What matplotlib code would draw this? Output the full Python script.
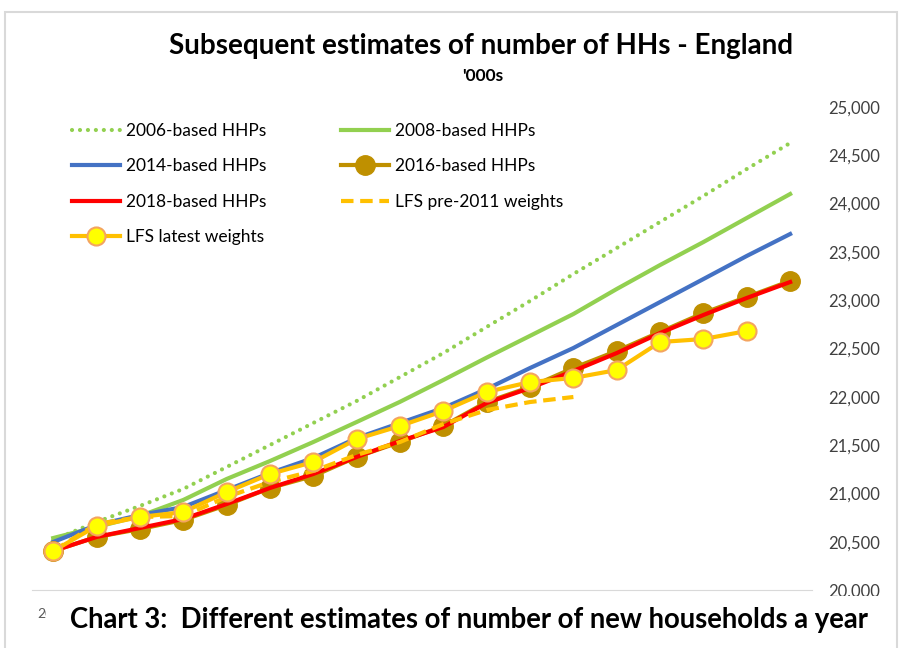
import matplotlib
matplotlib.use("Agg")
import matplotlib.pyplot as plt
from matplotlib.patches import Rectangle
from matplotlib.ticker import FuncFormatter

plt.rcParams["font.family"] = ["Lato", "DejaVu Sans"]

years = [str(y) for y in range(2001, 2019)]

# household estimates, '000s
hhp_2006 = [20518, 20704, 20870, 21046, 21273, 21501, 21729, 21957, 22205, 22453,
            22723, 22992, 23271, 23540, 23810, 24079, 24358, 24627]
hhp_2008 = [20538, 20652, 20766, 20932, 21149, 21335, 21532, 21739, 21948, 22174,
            22406, 22631, 22857, 23116, 23364, 23602, 23851, 24099]
hhp_2014 = [20497, 20673, 20776, 20859, 21035, 21211, 21366, 21573, 21729, 21884,
            22081, 22298, 22505, 22743, 22981, 23219, 23458, 23685]
hhp_2016 = [20404, 20549, 20631, 20725, 20880, 21056, 21180, 21377, 21532, 21698,
            21946, 22101, 22298, 22474, 22671, 22867, 23033, 23199]
hhp_2018 = [20404, 20549, 20642, 20735, 20890, 21056, 21201, 21377, 21542, 21687,
            21936, 22091, 22267, 22453, 22660, 22847, 23023, 23188]
lfs_pre2011 = [20404, 20684, 20756, 20766, 20963, 21118, 21232, 21398, 21532, 21718,
               21863, 21946, 21998]
lfs_latest = [20404, 20663, 20756, 20807, 21014, 21201, 21325, 21563, 21698, 21853,
              22050, 22153, 22195, 22277, 22567, 22598, 22681]

GREEN = "#92D050"
BLUE = "#4472C4"
GOLD = "#BF9000"
RED = "#FF0000"
AMBER = "#FFC000"

fig = plt.figure(figsize=(9.02, 6.48), dpi=100)
ax = fig.add_axes([0.035, 0.0895, 0.865, 0.7454])

x = range(len(years))
lw = 3.0
h06, = ax.plot(x, hhp_2006, color=GREEN, lw=lw, ls=(0, (0.01, 1.9)),
               dash_capstyle="round", label="2006-based HHPs")
h08, = ax.plot(x, hhp_2008, color=GREEN, lw=lw, label="2008-based HHPs")
h14, = ax.plot(x, hhp_2014, color=BLUE, lw=lw, label="2014-based HHPs")
h16, = ax.plot(x, hhp_2016, color=GOLD, lw=lw, marker="o", ms=14,
               mec=GOLD, label="2016-based HHPs")
h18, = ax.plot(x, hhp_2018, color=RED, lw=lw, label="2018-based HHPs")
hpre, = ax.plot(range(len(lfs_pre2011)), lfs_pre2011, color=AMBER, lw=lw,
                ls=(0, (3, 1.6)), label="LFS pre-2011 weights")
hlat, = ax.plot(range(len(lfs_latest)), lfs_latest, color=AMBER, lw=lw, marker="o",
                ms=13, mfc="#FFFF00", mec="#F4A460", mew=1.5,
                label="LFS latest weights")

ax.set_xlim(-0.5, len(years) - 0.5)
ax.set_ylim(20000, 25000)
ax.set_yticks(range(20000, 25001, 500))
ax.yaxis.tick_right()
ax.yaxis.set_major_formatter(FuncFormatter(lambda v, p: f"{int(v):,}"))
ax.tick_params(axis="y", length=0, pad=12, labelsize=12, labelcolor="#404040")
ax.set_xticks(list(x))
ax.set_xticklabels(years)
ax.tick_params(axis="x", length=0, labelsize=10, labelcolor="#595959", pad=13)
for s in ("top", "left", "right"):
    ax.spines[s].set_visible(False)
ax.spines["bottom"].set_color("#D9D9D9")

handles = [h06, h14, h18, hlat, h08, h16, hpre]
ax.legend(handles=handles, labels=[h.get_label() for h in handles], ncol=2,
          frameon=False, loc="upper left", bbox_to_anchor=(0.043, 0.982),
          fontsize=12.5, handlelength=2.75, handletextpad=0.35, columnspacing=4.3,
          labelspacing=1.13, borderaxespad=0.0)

fig.text(481 / 902, 1 - 46 / 648, "Subsequent estimates of number of HHs - England",
         ha="center", va="center", fontsize=20, fontweight="bold")
fig.text(483 / 902, 1 - 76 / 648, "'000s", ha="center", va="center", fontsize=12.5,
         fontweight="bold")

# caption panel sits over the bottom of the chart
fig.add_artist(Rectangle((46 / 902, 0.01), 839 / 902, (648 - 596) / 648 - 0.01,
                         transform=fig.transFigure, facecolor="white",
                         edgecolor="none", zorder=5))
fig.text(70 / 902, 1 - 620 / 648,
         "Chart 3:  Different estimates of number of new households a year",
         ha="left", va="center", fontsize=19.8, fontweight="bold", zorder=6)

# outer frame
fig.add_artist(Rectangle((5 / 902, -0.05), 892 / 902, 0.05 + (648 - 12) / 648,
                         transform=fig.transFigure, facecolor="none",
                         edgecolor="#D9D9D9", lw=1.5, zorder=7))

fig.savefig("out.png", dpi=100)
